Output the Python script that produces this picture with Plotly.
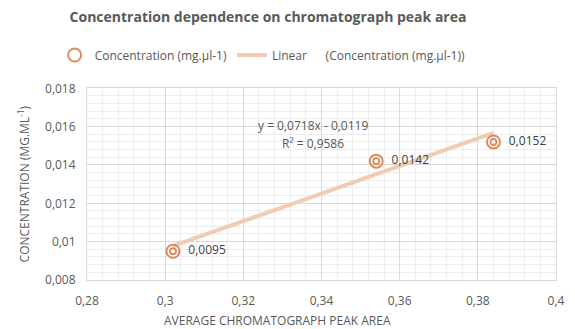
import plotly.graph_objects as go

x_vals = [0.302, 0.354, 0.384]
y_vals = [0.0095, 0.0142, 0.0152]
point_labels = ["0,0095", "0,0142", "0,0152"]
slope = 0.0718
intercept = -0.0119
r2_text = "R² = 0,9586"
eq_text = "y = 0,0718x - 0,0119"
x_ticks = [0.28, 0.30, 0.32, 0.34, 0.36, 0.38, 0.40]
x_tick_labels = ["0,28", "0,3", "0,32", "0,34", "0,36", "0,38", "0,4"]
y_ticks = [0.008, 0.010, 0.012, 0.014, 0.016, 0.018]
y_tick_labels = ["0,008", "0,01", "0,012", "0,014", "0,016", "0,018"]

FONT = "Open Sans"
GRAY = "#595959"
MARK = "#DE8C5E"
LINE = "#F1CBB2"

trend_x = [min(x_vals), max(x_vals)]
trend_y = [slope * v + intercept for v in trend_x]

fig = go.Figure()
fig.add_trace(go.Scatter(
    x=trend_x, y=trend_y, mode="lines",
    line=dict(color=LINE, width=4),
    name="Linear\u00a0\u00a0\u00a0\u00a0\u00a0\u00a0(Concentration (mg.µl-1))",
    legendrank=2,
))
fig.add_trace(go.Scatter(
    x=x_vals, y=y_vals, mode="markers+text",
    marker=dict(symbol="circle-open", size=13, color=MARK, line=dict(width=2, color=MARK)),
    text=point_labels, texttemplate="\u00a0\u00a0%{text}", textposition="middle right",
    textfont=dict(family=FONT, size=12, color="#404040"),
    name="Concentration (mg.µl-1)", legendgroup="c", legendrank=1,
))
fig.add_trace(go.Scatter(
    x=x_vals, y=y_vals, mode="markers",
    marker=dict(symbol="circle-open", size=6, color=MARK, line=dict(width=1.8, color=MARK)),
    showlegend=False, legendgroup="c", hoverinfo="skip",
))

fig.add_annotation(x=0.3377, y=0.01608, xref="x", yref="y", text=eq_text, showarrow=False,
                   font=dict(family=FONT, size=12, color=GRAY))
fig.add_annotation(x=0.3377, y=0.01510, xref="x", yref="y", text=r2_text, showarrow=False,
                   font=dict(family=FONT, size=12, color=GRAY))
fig.add_annotation(x=(281 - 87) / 478, y=(280 - 321) / 193, xref="paper", yref="paper",
                   text="AVERAGE CHROMATOGRAPH PEAK AREA", showarrow=False,
                   xanchor="center", yanchor="middle",
                   font=dict(family=FONT, size=12, color=GRAY))

fig.update_layout(
    width=575, height=329,
    margin=dict(l=87, r=10, t=87, b=49),
    paper_bgcolor="white", plot_bgcolor="white",
    font=dict(family=FONT, size=12, color=GRAY),
    title=dict(text="Concentration dependence on chromatograph peak area",
               x=268 / 575, xanchor="center", xref="container",
               y=1 - 17 / 329, yanchor="middle", yref="container",
               font=dict(family=FONT, size=14, color=GRAY, weight="bold")),
    legend=dict(orientation="h", x=0.095, xanchor="left", xref="container",
                y=1 - 55 / 329, yanchor="middle", yref="container",
                font=dict(family=FONT, size=12, color=GRAY), itemwidth=30,
                traceorder="normal"),
    showlegend=True,
)
fig.update_xaxes(
    range=[0.28, 0.40], tickvals=x_ticks, ticktext=x_tick_labels,
    showgrid=True, gridcolor="#D9D9D9", gridwidth=1,
    minor=dict(dtick=0.004, showgrid=True, gridcolor="#EDEDED", gridwidth=1, tick0=0.28),
    zeroline=False, showline=True, linecolor="#D9D9D9", mirror=True,
    ticks="", ticklabelstandoff=10,
    tickfont=dict(family=FONT, size=12, color=GRAY),
)
fig.update_yaxes(
    range=[0.008, 0.018], tickvals=y_ticks, ticktext=y_tick_labels,
    showgrid=True, gridcolor="#D9D9D9", gridwidth=1,
    minor=dict(dtick=0.0004, showgrid=True, gridcolor="#EDEDED", gridwidth=1, tick0=0.008),
    zeroline=False, showline=True, linecolor="#D9D9D9", mirror=True,
    ticks="", ticklabelstandoff=8,
    tickfont=dict(family=FONT, size=12, color=GRAY),
    title=dict(text="CONCENTRATION (MG.ML<sup>-1</sup>)", font=dict(family=FONT, size=12, color=GRAY), standoff=12),
)

fig.write_html("out.html", config={"displayModeBar": False},
               post_script="document.body.style.margin='0px';")
